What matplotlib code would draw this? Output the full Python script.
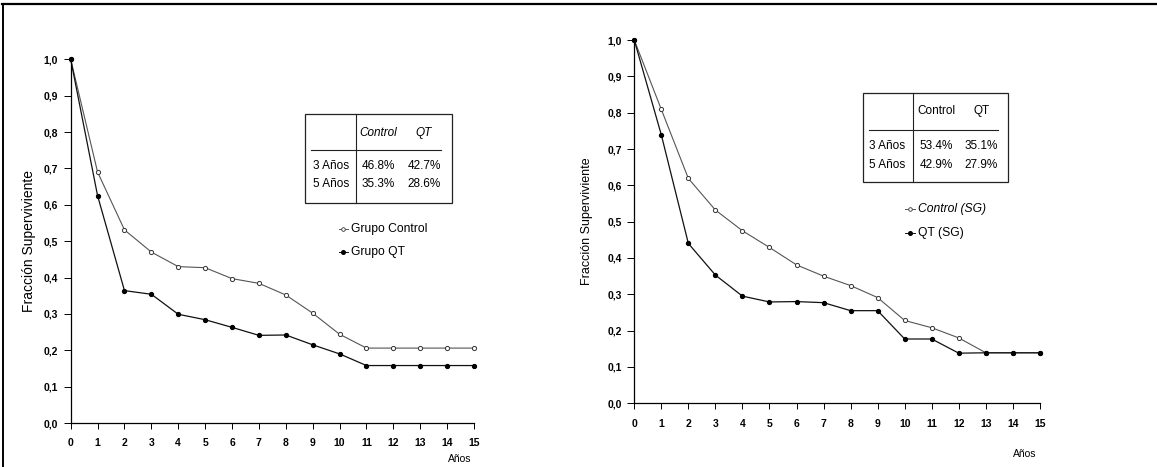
import numpy as np
import matplotlib
matplotlib.use("Agg")
import matplotlib.pyplot as plt
from matplotlib.lines import Line2D

plt.rcParams['font.family'] = ['Liberation Sans', 'DejaVu Sans']

# data
years = list(range(16))
ctrl_left = [1.0, 0.69, 0.531, 0.470, 0.430, 0.427, 0.397, 0.384, 0.352, 0.302, 0.244, 0.206, 0.206, 0.206, 0.206, 0.206]
qt_left = [1.0, 0.625, 0.364, 0.354, 0.299, 0.284, 0.263, 0.241, 0.242, 0.215, 0.190, 0.158, 0.158, 0.158, 0.158, 0.158]
ctrl_right = [1.0, 0.809, 0.619, 0.532, 0.475, 0.429, 0.381, 0.350, 0.324, 0.291, 0.228, 0.208, 0.180, 0.139, 0.139, 0.139]
qt_right = [1.0, 0.739, 0.440, 0.353, 0.295, 0.279, 0.280, 0.277, 0.255, 0.255, 0.177, 0.177, 0.138, 0.139, 0.139, 0.139]

yticks = np.arange(0, 1.01, 0.1)
ytick_labels = ['%.1f' % v for v in yticks]
ytick_labels = [s.replace('.', ',') for s in ytick_labels]

table_left = [['3 Años', '46.8%', '42.7%'], ['5 Años', '35.3%', '28.6%']]
table_right = [['3 Años', '53.4%', '35.1%'], ['5 Años', '42.9%', '27.9%']]

fig = plt.figure(figsize=(11.57, 4.67), dpi=100)

# outer frame bits
fig.add_artist(Line2D([0.002, 1.0], [0.9925, 0.9925], color='black', lw=1.6, transform=fig.transFigure))
fig.add_artist(Line2D([0.003, 0.003], [0.0, 0.9925], color='black', lw=1.4, transform=fig.transFigure))


def panel(rect, ctrl, qt, labels, tab, lab_box, ctrl_italic, ylab_x, ylab_fs):
    ax = fig.add_axes(rect)
    ax.plot(years, ctrl, color='#555555', lw=0.8, marker='o', ms=3, mfc='white',
            mec='#333333', mew=0.7, clip_on=False)
    ax.plot(years, qt, color='#111111', lw=0.9, marker='o', ms=2.8, mfc='black',
            mec='black', clip_on=False)
    ax.set_xlim(0, 15)
    ax.set_ylim(0, 1.0)
    ax.set_xticks(years)
    ax.set_xticklabels([str(v) for v in years], fontsize=7.5, fontweight='bold')
    ax.set_yticks(yticks)
    ax.set_yticklabels(ytick_labels, fontsize=7.5, fontweight='bold')
    ax.tick_params(axis='x', direction='out', length=4, width=0.7, pad=7)
    ax.tick_params(axis='y', direction='out', length=5, width=0.7, pad=4)
    for s in ['top', 'right']:
        ax.spines[s].set_visible(False)
    for s in ['left', 'bottom']:
        ax.spines[s].set_linewidth(0.9)
    ax.set_ylabel('Fracción Superviviente', fontsize=ylab_fs)
    ax.yaxis.set_label_coords(ylab_x, 0.5)

    x0, x1, yb, yt, xv, yh, hx0, hx1, cx1, cx2, rx, ry1, ry2, hy, lx, ly1, ly2 = lab_box
    ax.add_patch(plt.Rectangle((x0, yb), x1 - x0, yt - yb, transform=ax.transAxes,
                               fill=False, lw=0.9, ec='#222222'))
    ax.add_line(Line2D([xv, xv], [yb, yt], transform=ax.transAxes, color='#222222', lw=0.8))
    ax.add_line(Line2D([hx0, hx1], [yh, yh], transform=ax.transAxes, color='#222222', lw=0.8))
    style = 'italic' if ctrl_italic else 'normal'
    ax.text(cx1, hy, 'Control', transform=ax.transAxes, ha='center', va='center',
            fontsize=8.5, style=style)
    ax.text(cx2, hy, 'QT', transform=ax.transAxes, ha='center', va='center',
            fontsize=8.5, style=style)
    for row, yy in zip(tab, [ry1, ry2]):
        ax.text(rx, yy, row[0], transform=ax.transAxes, ha='left', va='center', fontsize=8.5)
        ax.text(cx1, yy, row[1], transform=ax.transAxes, ha='center', va='center', fontsize=8.5)
        ax.text(cx2, yy, row[2], transform=ax.transAxes, ha='center', va='center', fontsize=8.5)

    ax.plot([lx - 0.012, lx + 0.012], [ly1, ly1], transform=ax.transAxes, color='#555555', lw=0.7)
    ax.plot([lx], [ly1], transform=ax.transAxes, marker='o', ms=2.6, mfc='white', mec='#333333', mew=0.6)
    ax.plot([lx - 0.012, lx + 0.012], [ly2, ly2], transform=ax.transAxes, color='#111111', lw=0.7)
    ax.plot([lx], [ly2], transform=ax.transAxes, marker='o', ms=2.6, mfc='black', mec='black')
    ax.text(lx + 0.02, ly1, labels[0], transform=ax.transAxes, ha='left', va='center', fontsize=8.7,
            style='normal' if ctrl_italic else 'italic')
    ax.text(lx + 0.02, ly2, labels[1], transform=ax.transAxes, ha='left', va='center', fontsize=8.7)
    return ax


ax1 = panel([0.0611, 0.0942, 0.3486, 0.7788], ctrl_left, qt_left,
            ['Grupo Control', 'Grupo QT'], table_left,
            [0.581, 0.945, 0.605, 0.850, 0.707, 0.751, 0.597, 0.919,
             0.762, 0.876, 0.601, 0.707, 0.657, 0.798, 0.676, 0.534, 0.469], True,
            -0.087, 10)

ax2 = panel([0.5482, 0.1364, 0.3506, 0.7779], ctrl_right, qt_right,
            ['Control (SG)', 'QT (SG)'], table_right,
            [0.563, 0.922, 0.610, 0.853, 0.688, 0.752, 0.579, 0.897,
             0.744, 0.856, 0.579, 0.709, 0.657, 0.805, 0.680, 0.535, 0.468], False,
            -0.101, 9)

fig.text(460 / 1157, 1 - 459 / 467, 'Años', ha='center', va='center', fontsize=7.5)
fig.text(1025 / 1157, 1 - 454 / 467, 'Años', ha='center', va='center', fontsize=7.5)

fig.savefig('out.png', dpi=100)
